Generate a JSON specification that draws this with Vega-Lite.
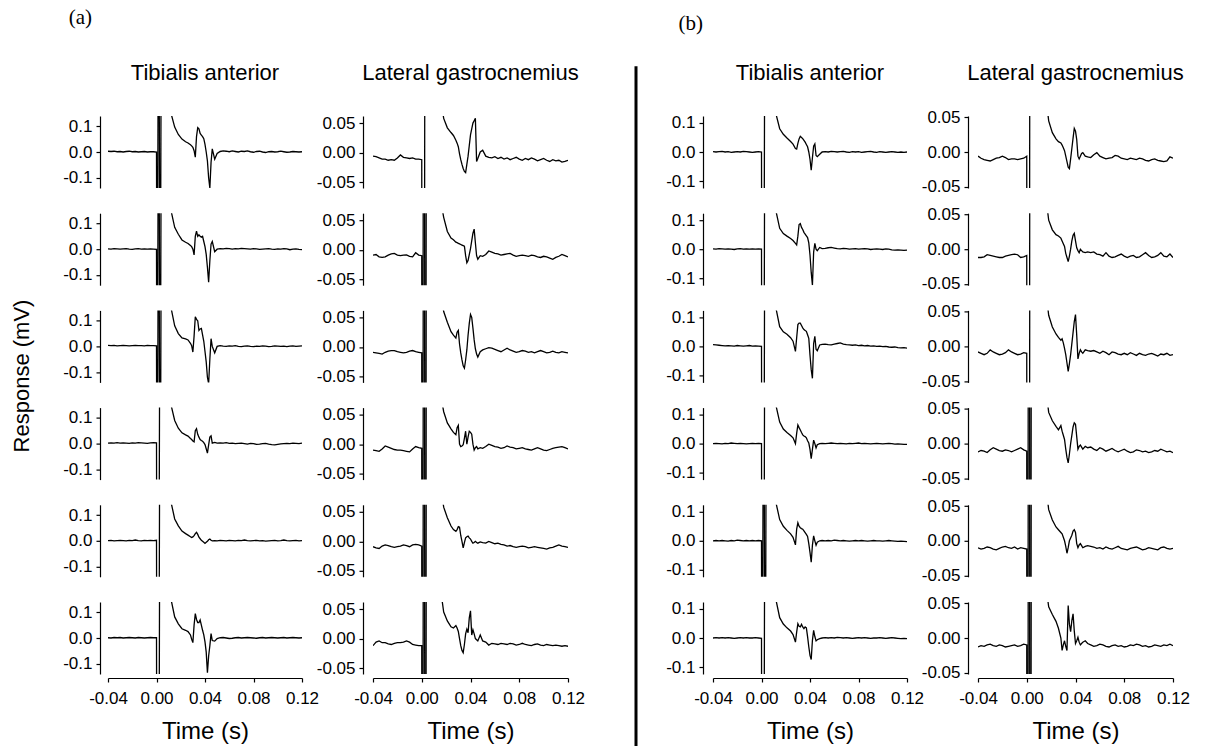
{
"$schema": "https://vega.github.io/schema/vega-lite/v6.json",
"background": "white",
"padding": {"left": 0, "top": 7, "right": 0, "bottom": 0},
"config": {
  "font": "Liberation Sans",
  "view": {"stroke": null},
  "locale": {"number": {"decimal": ".", "thousands": ",", "grouping": [3], "currency": ["$", ""], "minus": "-"}},
  "axis": {"domainColor": "black", "tickColor": "black", "labelColor": "black", "titleColor": "black", "grid": false, "labelFontSize": 17, "tickSize": 4, "labelPadding": 4, "titleFontWeight": "normal", "domainWidth": 1.2, "tickWidth": 1.2, "labelOverlap": false, "labelFlush": false},
  "header": {"titleFontSize": 1, "labelFontSize": 22, "labelColor": "black", "labelFont": "Liberation Sans", "labelPadding": 31},
  "title": {"fontWeight": "normal", "color": "black"}
},
"datasets": {
  "grid": [{"g": 1, "t": [-0.04,-0.0375,-0.035,-0.0325,-0.03,-0.0275,-0.025,-0.0225,-0.02,-0.0175,-0.015,-0.0125,-0.01,-0.0075,-0.005,-0.0025,0,0.0005,0.0018,0.003,0.0042,0.012,0.015,0.018,0.021,0.024,0.026,0.028,0.029,0.03,0.031,0.032,0.033,0.034,0.035,0.036,0.037,0.038,0.039,0.04,0.041,0.042,0.043,0.044,0.045,0.046,0.048,0.05,0.0525,0.055,0.0575,0.06,0.0625,0.065,0.0675,0.07,0.0725,0.075,0.0775,0.08,0.0825,0.085,0.0875,0.09,0.0925,0.095,0.0975,0.1,0.1025,0.105,0.1075,0.11,0.1125,0.115,0.1175,0.12]}],
  "traces": [
    {"g":1,"p":"aT","m":"Tibialis anterior","r":1,"v":[0.003,0.002,0.003,0.001,0.002,0,0.002,0.003,0.001,0.002,0,0.001,0.002,0,0.001,0.001,0,-1,1,-1,1,0.15,0.097,0.068,0.05,0.04,0.035,0.028,0.024,0.018,0.005,-0.02,0.06,0.095,0.09,0.072,0.066,0.06,0.052,0.03,0,-0.035,-0.1,-0.14,-0.04,0.012,-0.028,-0.006,0.002,0.004,0.003,0.001,0.004,0.002,0,0.003,0.002,0.004,0.001,-0.001,0.002,0.003,0,-0.002,0.001,0.002,0,0.001,0.003,0.001,-0.001,0,0.002,0.001,0,0.001]},
    {"g":1,"p":"aT","m":"Tibialis anterior","r":2,"v":[0.001,0,0.002,0.001,0,0.001,0.002,0,-0.001,0.001,0.002,0,0.001,0,0.001,0,-0.001,-1,1,-1,1,0.15,0.085,0.058,0.036,0.027,0.022,0.014,0.01,0,-0.022,0.05,0.07,0.05,0.056,0.05,0.047,0.05,0.03,0.01,-0.02,-0.07,-0.128,-0.045,0.02,0.03,-0.01,0,0.002,0.001,0.003,0.002,0,0.002,0.001,0.003,0.002,0.001,0,0.002,0.001,-0.001,0,0.001,0.002,0,-0.001,0.001,0,0.002,0.001,-0.002,0,0.001,-0.001,-0.002]},
    {"g":1,"p":"aT","m":"Tibialis anterior","r":3,"v":[0.004,0.003,0.004,0.002,0.003,0.004,0.003,0.002,0.003,0.004,0.003,0.003,0.002,0.004,0.003,0.003,0.002,-1,1,-1,1,0.15,0.08,0.05,0.033,0.029,0.025,0.012,0.003,-0.022,0.04,0.115,0.105,0.1,0.062,0.068,0.07,0.045,0.02,-0.02,-0.06,-0.12,-0.145,-0.05,0.03,0,-0.025,0,0.003,0.001,0,0.002,0.001,0.003,0,-0.001,0.001,0.002,0,-0.001,0.001,0,0.002,0.001,-0.001,0,0.002,0.001,0,0.001,-0.001,0.001,0.002,0,0.001,0.002]},
    {"g":1,"p":"aT","m":"Tibialis anterior","r":4,"v":[0.002,0.003,0.002,0.004,0.002,0.003,0.002,0.001,0.003,0.002,0.004,0.003,0.002,0.001,0.003,0.004,0.003,-1,-1,1,1,0.15,0.09,0.06,0.042,0.034,0.029,0.02,0.016,0.01,0.007,0.05,0.058,0.036,0.025,0.016,0.012,0.009,0.004,-0.004,-0.02,-0.037,-0.005,0.025,0.03,0.002,0.005,0.002,0.003,0.002,0.004,0.001,0.002,0,0.001,0.002,0,-0.002,0.001,0,-0.003,-0.002,0,0.001,-0.002,-0.004,-0.005,-0.003,-0.001,0,0.001,0,0.002,0.001,0,0.002]},
    {"g":1,"p":"aT","m":"Tibialis anterior","r":5,"v":[0.001,0.002,0,0.001,0.002,0.001,0,0.002,0.001,0.003,0.001,0,0.002,0.001,0.002,0.001,0.002,-1,-1,1,1,0.15,0.085,0.058,0.038,0.028,0.022,0.016,0.013,0.015,0.02,0.028,0.033,0.025,0.014,0.008,0.002,-0.002,-0.006,-0.01,-0.006,-0.002,0.004,0.007,0.002,0,0.001,0,0.002,0.001,0,0.002,0.001,0,0.002,0.001,0.003,0.001,0,0.001,0.002,0,0.001,-0.001,0,0.001,0.002,0,0.001,0.003,0.001,0,0.001,0.002,0,0.001]},
    {"g":1,"p":"aT","m":"Tibialis anterior","r":6,"v":[0.001,0,0.002,0.001,0.002,0,0.001,0.002,0.001,0,0.002,0.001,0,0.001,0.002,0.001,0.001,-1,-1,1,1,0.15,0.082,0.055,0.036,0.03,0.025,0.012,-0.005,-0.018,0.05,0.095,0.072,0.06,0.06,0.07,0.05,0.03,0.012,-0.015,-0.055,-0.135,-0.07,-0.03,0.017,-0.01,-0.012,-0.002,0.001,0.002,0,-0.002,-0.001,0.001,0.002,0,0.001,0.002,0.001,0,-0.001,0.001,0.002,0,0.001,0.002,0.001,0,0.001,0.002,0,0.001,0.002,0.001,0,0.001]},
    {"g":1,"p":"aL","m":"Lateral gastrocnemius","r":1,"v":[-0.006,-0.007,-0.009,-0.011,-0.011,-0.013,-0.012,-0.013,-0.009,-0.004,-0.008,-0.009,-0.01,-0.009,-0.011,-0.011,-0.012,-1,-1,1,1,0.2,0.1,0.058,0.042,0.034,0.029,0.021,0.016,0.01,-0.002,-0.012,-0.02,-0.027,-0.032,-0.034,-0.02,-0.006,0.012,0.03,0.04,0.05,0.054,0.058,-0.015,-0.01,0.001,0.004,-0.006,-0.008,-0.009,-0.007,-0.01,-0.008,-0.011,-0.009,-0.012,-0.01,-0.008,-0.011,-0.013,-0.01,-0.012,-0.009,-0.011,-0.014,-0.012,-0.01,-0.013,-0.015,-0.012,-0.014,-0.013,-0.016,-0.015,-0.013]},
    {"g":1,"p":"aL","m":"Lateral gastrocnemius","r":2,"v":[-0.009,-0.008,-0.012,-0.013,-0.012,-0.009,-0.007,-0.006,-0.009,-0.01,-0.009,-0.0087,-0.011,-0.012,-0.005,-0.009,-0.01,-1,1,-1,1,0.2,0.09,0.055,0.031,0.02,0.017,0.013,0.012,0.011,0.01,0.009,0.008,0.007,0.006,-0.01,-0.022,-0.018,-0.008,0.002,0.015,0.028,0.035,0.012,-0.01,-0.016,-0.01,-0.011,-0.008,-0.002,-0.004,-0.006,-0.007,-0.009,-0.008,-0.007,-0.006,-0.009,-0.011,-0.01,-0.009,-0.01,-0.011,-0.009,-0.01,-0.012,-0.013,-0.011,-0.012,-0.014,-0.016,-0.013,-0.011,-0.008,-0.01,-0.012]},
    {"g":1,"p":"aL","m":"Lateral gastrocnemius","r":3,"v":[-0.009,-0.01,-0.011,-0.012,-0.009,-0.007,-0.006,-0.006,-0.008,-0.009,-0.01,-0.009,-0.007,-0.006,-0.008,-0.009,-0.01,-1,1,-1,1,0.2,0.1,0.06,0.042,0.026,0.02,0.015,0.025,0.028,0.005,-0.01,-0.022,-0.032,-0.036,-0.022,-0.005,0.02,0.04,0.055,0.05,0.032,0.012,-0.003,-0.012,-0.017,-0.008,-0.005,-0.003,-0.001,-0.002,-0.004,-0.006,-0.008,-0.005,-0.002,-0.005,-0.007,-0.009,-0.008,-0.006,-0.007,-0.009,-0.008,-0.01,-0.008,-0.006,-0.008,-0.01,-0.009,-0.007,-0.009,-0.01,-0.008,-0.009,-0.01]},
    {"g":1,"p":"aL","m":"Lateral gastrocnemius","r":4,"v":[-0.01,-0.011,-0.012,-0.008,-0.003,-0.005,-0.007,-0.009,-0.01,-0.01,-0.011,-0.012,-0.013,-0.008,-0.004,-0.006,-0.007,-1,1,-1,1,0.2,0.09,0.055,0.036,0.026,0.02,0.016,0.028,0.032,0,-0.004,-0.003,-0.001,0.01,0.022,0,0.012,0.022,0.02,0.017,0,-0.01,-0.006,-0.004,-0.008,-0.006,-0.007,-0.004,0,-0.002,-0.004,-0.005,-0.007,-0.006,-0.003,-0.005,-0.006,-0.008,-0.007,-0.006,-0.008,-0.009,-0.01,-0.008,-0.006,-0.008,-0.01,-0.011,-0.009,-0.007,-0.006,-0.005,-0.004,-0.006,-0.008]},
    {"g":1,"p":"aL","m":"Lateral gastrocnemius","r":5,"v":[-0.009,-0.011,-0.012,-0.008,-0.006,-0.007,-0.009,-0.01,-0.009,-0.008,-0.006,-0.007,-0.009,-0.006,-0.005,-0.006,-0.008,-1,1,-1,1,0.2,0.1,0.058,0.04,0.026,0.02,0.017,0.02,0.025,0.024,0.01,0,-0.011,-0.002,0.006,0.008,0.009,0.006,0.004,0,-0.003,-0.002,0,-0.002,-0.003,-0.001,-0.002,-0.003,0,-0.002,-0.004,-0.003,-0.005,-0.006,-0.008,-0.007,-0.009,-0.01,-0.009,-0.008,-0.009,-0.011,-0.01,-0.009,-0.01,-0.011,-0.012,-0.013,-0.011,-0.01,-0.008,-0.006,-0.008,-0.009,-0.01]},
    {"g":1,"p":"aL","m":"Lateral gastrocnemius","r":6,"v":[-0.012,-0.006,-0.004,-0.007,-0.007,-0.009,-0.01,-0.008,-0.007,-0.007,-0.006,-0.004,-0.006,-0.01,-0.011,-0.012,-0.012,-1,1,-1,1,0.2,0.09,0.045,0.03,0.02,0.018,0.022,0.018,0.012,0,-0.012,-0.02,-0.024,-0.01,0.008,0.016,0.01,0.035,0.047,0.006,0.015,0.008,0,-0.002,-0.004,0.006,-0.004,-0.006,-0.011,-0.008,-0.009,-0.01,-0.008,-0.009,-0.01,-0.008,-0.009,-0.011,-0.01,-0.008,-0.01,-0.011,-0.012,-0.01,-0.009,-0.011,-0.012,-0.01,-0.011,-0.012,-0.011,-0.012,-0.013,-0.012,-0.013]},
    {"g":1,"p":"bT","m":"Tibialis anterior","r":1,"v":[0.001,0,0.001,0.002,0,0.001,-0.001,0,0.001,0,0.002,0.001,0,-0.001,0,0.001,0,-1,-1,1,1,0.13,0.08,0.061,0.048,0.036,0.027,0.012,0.01,0.03,0.045,0.054,0.05,0.046,0.04,0.034,0.026,0.018,0,-0.025,-0.063,-0.02,0.02,0.028,-0.012,-0.016,-0.008,0,0.001,0,0.002,0.001,0,0.001,0.002,0,-0.001,0.001,0,0.001,-0.001,0,0.001,0.002,0,-0.001,0.001,0,-0.001,0,0.001,0,-0.001,0,-0.001,0]},
    {"g":1,"p":"bT","m":"Tibialis anterior","r":2,"v":[0.001,0,0.002,0.001,0,0.001,0,-0.001,0.001,0.002,0,0.001,0,0.001,0,0.001,0,-1,-1,1,1,0.13,0.072,0.054,0.045,0.037,0.03,0.02,0.015,0.045,0.085,0.088,0.075,0.068,0.058,0.052,0.046,0.04,0.022,-0.02,-0.08,-0.124,-0.01,0.02,0,-0.005,0.006,0.002,0.003,0.005,0.006,0.004,0.002,0.001,0.003,0.002,0,0.001,0.002,0,0.001,0.002,0.001,-0.001,0,0.001,0,-0.001,0.001,0,-0.002,-0.003,-0.002,-0.003,-0.004,-0.003]},
    {"g":1,"p":"bT","m":"Tibialis anterior","r":3,"v":[0.006,0.005,0.004,0.003,0.002,0.003,0.002,0.001,0.003,0.002,0.001,0.002,0.003,0.001,0.002,0.001,0,-1,-1,1,1,0.13,0.068,0.05,0.042,0.03,0.018,-0.017,0.03,0.075,0.08,0.08,0.072,0.064,0.058,0.055,0.052,0.04,0.028,-0.03,-0.08,-0.11,0.01,0.035,-0.01,-0.015,0.005,0.007,0.008,0.006,0.005,0.008,0.01,0.012,0.008,0.006,0.005,0.004,0.005,0.003,0.004,0.002,0.003,0.001,0.002,0,0.001,-0.001,0,-0.002,-0.003,-0.002,-0.004,-0.005,-0.004,-0.006]},
    {"g":1,"p":"bT","m":"Tibialis anterior","r":4,"v":[0,0.001,0,-0.001,0.001,0,0.002,0.001,0,0.001,0,-0.001,0,0.001,0,0.001,0,-1,-1,1,1,0.13,0.074,0.05,0.038,0.028,0.02,0,0.035,0.064,0.055,0.047,0.038,0.03,0.026,0.024,0.02,0.01,0.002,-0.02,-0.052,-0.02,0.012,0,-0.015,-0.004,0,0.001,0,0.001,0.002,0.001,0,0.001,0,-0.001,0.001,0,0.001,0.002,0,0.001,0,-0.001,0,0.001,0,-0.001,0,0.001,0,-0.002,-0.001,-0.002,-0.003,-0.003]},
    {"g":1,"p":"bT","m":"Tibialis anterior","r":5,"v":[0,0.001,0,0.001,0,-0.001,0.001,0,0.002,0.001,0,0.001,0,0.001,0,0.001,0,-1,1,-1,1,0.13,0.073,0.05,0.036,0.024,0.012,-0.014,0.04,0.062,0.05,0.045,0.042,0.04,0.034,0.028,0.022,0.015,-0.01,-0.04,-0.074,-0.015,0.017,0,-0.015,-0.005,0,0.001,0,0.001,0,0.002,0.001,0,0.001,0,-0.001,0,0.001,0,0.001,0,-0.001,0,0.001,0,0,-0.001,0,0.001,0,-0.001,-0.002,-0.001,-0.002,-0.003]},
    {"g":1,"p":"bT","m":"Tibialis anterior","r":6,"v":[0,0.001,0,0.001,0,0.001,0,-0.001,0,0.001,0,0.001,0,0,0.001,0,-0.001,-1,-1,1,1,0.13,0.07,0.048,0.035,0.024,0.012,-0.014,0.02,0.049,0.04,0.038,0.047,0.038,0.032,0.038,0.035,0.005,-0.03,-0.06,-0.074,-0.008,0.026,0.005,-0.01,-0.006,-0.002,0,0.001,0,0.001,0,0.002,0.001,0,0.001,0,-0.001,0,0.001,0,0.001,0,-0.001,0,0,0.001,0,-0.001,0,0.001,0,-0.001,-0.002,-0.001,-0.002]},
    {"g":1,"p":"bL","m":"Lateral gastrocnemius","r":1,"v":[-0.006,-0.009,-0.011,-0.012,-0.013,-0.011,-0.009,-0.008,-0.006,-0.008,-0.011,-0.01,-0.01,-0.011,-0.01,-0.009,-0.006,-1,-1,1,1,0.2,0.09,0.045,0.028,0.019,0.015,0.013,0.01,0.006,0.002,-0.006,-0.014,-0.022,-0.024,-0.01,0.005,0.02,0.034,0.03,0.018,-0.006,-0.01,-0.006,-0.002,-0.001,-0.006,-0.007,-0.008,-0.004,-0.001,-0.006,-0.008,-0.01,-0.009,-0.008,-0.005,-0.006,-0.009,-0.01,-0.011,-0.009,-0.01,-0.011,-0.009,-0.01,-0.012,-0.013,-0.011,-0.01,-0.012,-0.013,-0.014,-0.013,-0.007,-0.009]},
    {"g":1,"p":"bL","m":"Lateral gastrocnemius","r":2,"v":[-0.012,-0.012,-0.011,-0.008,-0.009,-0.01,-0.011,-0.012,-0.012,-0.01,-0.009,-0.008,-0.007,-0.008,-0.012,-0.011,-0.009,-1,-1,1,1,0.2,0.085,0.042,0.028,0.021,0.019,0.016,0.012,0.008,0.004,-0.006,-0.012,-0.018,-0.01,0,0.012,0.02,0.023,0.012,0.002,-0.002,-0.005,0,-0.002,-0.004,-0.005,-0.004,-0.005,-0.004,-0.007,-0.008,-0.01,-0.005,-0.01,-0.012,-0.011,-0.009,-0.007,-0.01,-0.012,-0.01,-0.009,-0.012,-0.011,-0.008,-0.005,-0.009,-0.012,-0.011,-0.009,-0.005,-0.01,-0.011,-0.007,-0.012]},
    {"g":1,"p":"bL","m":"Lateral gastrocnemius","r":3,"v":[-0.008,-0.01,-0.012,-0.01,-0.005,-0.008,-0.01,-0.012,-0.011,-0.009,-0.005,-0.008,-0.01,-0.012,-0.011,-0.009,-0.01,-1,-1,1,1,0.2,0.09,0.045,0.028,0.018,0.013,0.009,0.011,0.005,-0.003,-0.012,-0.024,-0.036,-0.025,-0.012,0.004,0.02,0.036,0.046,0.016,-0.018,-0.01,-0.005,-0.008,-0.01,-0.005,-0.006,-0.007,-0.006,-0.008,-0.01,-0.007,-0.009,-0.012,-0.008,-0.009,-0.011,-0.012,-0.01,-0.012,-0.009,-0.011,-0.013,-0.01,-0.012,-0.013,-0.011,-0.01,-0.012,-0.014,-0.011,-0.012,-0.01,-0.013,-0.012]},
    {"g":1,"p":"bL","m":"Lateral gastrocnemius","r":4,"v":[-0.012,-0.01,-0.011,-0.013,-0.009,-0.006,-0.008,-0.01,-0.011,-0.009,-0.01,-0.012,-0.01,-0.008,-0.006,-0.009,-0.011,-1,1,-1,1,0.2,0.09,0.045,0.033,0.025,0.02,0.026,0.018,0.012,0.006,-0.008,-0.02,-0.028,-0.015,0,0.012,0.024,0.03,0.028,0.01,-0.008,-0.004,-0.002,-0.005,-0.008,-0.004,-0.006,-0.005,-0.008,-0.01,-0.006,-0.008,-0.011,-0.009,-0.007,-0.01,-0.012,-0.01,-0.008,-0.011,-0.013,-0.012,-0.009,-0.01,-0.012,-0.011,-0.013,-0.012,-0.01,-0.011,-0.008,-0.01,-0.012,-0.011,-0.013]},
    {"g":1,"p":"bL","m":"Lateral gastrocnemius","r":5,"v":[-0.01,-0.012,-0.011,-0.009,-0.01,-0.012,-0.013,-0.011,-0.009,-0.008,-0.01,-0.011,-0.009,-0.012,-0.01,-0.011,-0.012,-1,1,-1,1,0.2,0.09,0.045,0.03,0.02,0.016,0.012,0.01,0.005,0,-0.008,-0.018,-0.01,0,0.004,0.008,0.014,0.016,0.012,-0.004,-0.01,-0.006,-0.004,-0.007,-0.01,-0.008,-0.007,-0.008,-0.009,-0.011,-0.01,-0.012,-0.009,-0.011,-0.012,-0.01,-0.008,-0.011,-0.012,-0.013,-0.011,-0.01,-0.009,-0.011,-0.013,-0.012,-0.01,-0.011,-0.012,-0.013,-0.01,-0.009,-0.011,-0.012,-0.011]},
    {"g":1,"p":"bL","m":"Lateral gastrocnemius","r":6,"v":[-0.013,-0.011,-0.012,-0.01,-0.009,-0.011,-0.012,-0.01,-0.011,-0.013,-0.012,-0.011,-0.01,-0.012,-0.011,-0.009,-0.01,-1,1,-1,1,0.2,0.085,0.045,0.034,0.024,0.014,0,-0.018,-0.01,-0.004,-0.012,-0.018,0.047,0.02,0.009,0.025,0.035,0.01,-0.008,-0.004,0.001,-0.006,-0.01,-0.008,-0.006,-0.004,-0.008,-0.01,-0.012,-0.011,-0.009,-0.01,-0.012,-0.013,-0.011,-0.01,-0.012,-0.011,-0.013,-0.012,-0.01,-0.011,-0.009,-0.01,-0.012,-0.011,-0.013,-0.012,-0.01,-0.011,-0.012,-0.01,-0.011,-0.009,-0.011]}
  ]
},
"spacing": 49,
"hconcat": [
  {
    "spacing": 18,
    "hconcat": [
      {
        "width": 44, "height": 520,
        "data": {"values": [{"label": "Response (mV)"}]},
        "mark": {"type": "text", "angle": 270, "fontSize": 22, "color": "black"},
        "encoding": {"text": {"field": "label"}}
      },
      {
        "title": {"text": "(a)", "anchor": "start", "font": "Liberation Serif", "fontSize": 21, "dx": 6, "offset": 34},
        "spacing": -3,
        "hconcat": [
          {
            "data": {"name": "traces"},
            "transform": [
              {"filter": {"field": "p", "equal": "aT"}},
              {"lookup": "g", "from": {"data": {"name": "grid"}, "key": "g", "fields": ["t"]}},
              {"flatten": ["t", "v"]}
            ],
            "facet": {"row": {"field": "r", "type": "ordinal", "header": null}, "column": {"field": "m", "type": "nominal", "header": {"title": null}}},
            "spacing": {"row": 25.2},
            "bounds": "flush",
            "spec": {
              "width": 194, "height": 72,
              "mark": {"type": "line", "clip": true, "color": "black", "strokeWidth": 1.3},
              "encoding": {
                "x": {"field": "t", "type": "quantitative", "scale": {"domain": [-0.04, 0.12], "nice": false, "zero": false}, "axis": {"values": [-0.04, 0, 0.04, 0.08, 0.12], "format": ".2f", "title": "Time (s)", "titleFontSize": 24, "offset": 4, "labelPadding": 8, "titlePadding": 13}},
                "y": {"field": "v", "type": "quantitative", "scale": {"domain": [-0.14, 0.14], "nice": false, "zero": false}, "axis": {"values": [-0.1, 0, 0.1], "format": ".1f", "title": null, "offset": 8}}
              }
            }
          },
          {
            "data": {"name": "traces"},
            "transform": [
              {"filter": {"field": "p", "equal": "aL"}},
              {"lookup": "g", "from": {"data": {"name": "grid"}, "key": "g", "fields": ["t"]}},
              {"flatten": ["t", "v"]}
            ],
            "facet": {"row": {"field": "r", "type": "ordinal", "header": null}, "column": {"field": "m", "type": "nominal", "header": {"title": null}}},
            "spacing": {"row": 25.2},
            "bounds": "flush",
            "spec": {
              "width": 195, "height": 72,
              "mark": {"type": "line", "clip": true, "color": "black", "strokeWidth": 1.3},
              "encoding": {
                "x": {"field": "t", "type": "quantitative", "scale": {"domain": [-0.04, 0.12], "nice": false, "zero": false}, "axis": {"values": [-0.04, 0, 0.04, 0.08, 0.12], "format": ".2f", "title": "Time (s)", "titleFontSize": 24, "offset": 4, "labelPadding": 8, "titlePadding": 13}},
                "y": {"field": "v", "type": "quantitative", "scale": {"domain": [-0.06, 0.062], "nice": false, "zero": false}, "axis": {"values": [-0.05, 0, 0.05], "format": ".2f", "title": null, "offset": 10}}
              }
            }
          }
        ]
      }
    ]
  },
  {
    "title": {"text": "(b)", "anchor": "start", "font": "Liberation Serif", "fontSize": 21, "dx": 44, "dy": 6, "offset": 34},
    "spacing": 27,
    "hconcat": [
      {
        "width": 2, "height": 630,
        "data": {"values": [{"s": 0}]},
        "mark": {"type": "rule", "color": "black", "strokeWidth": 3},
        "encoding": {
          "x": {"field": "s", "type": "quantitative", "scale": {"domain": [0, 1]}, "axis": null},
          "y": {"datum": 1.079, "type": "quantitative", "scale": {"domain": [0, 1]}, "axis": null},
          "y2": {"datum": 0}
        }
      },
      {
        "spacing": -3,
        "hconcat": [
          {
            "data": {"name": "traces"},
            "transform": [
              {"filter": {"field": "p", "equal": "bT"}},
              {"lookup": "g", "from": {"data": {"name": "grid"}, "key": "g", "fields": ["t"]}},
              {"flatten": ["t", "v"]}
            ],
            "facet": {"row": {"field": "r", "type": "ordinal", "header": null}, "column": {"field": "m", "type": "nominal", "header": {"title": null}}},
            "spacing": {"row": 25.2},
            "bounds": "flush",
            "spec": {
              "width": 194, "height": 72,
              "mark": {"type": "line", "clip": true, "color": "black", "strokeWidth": 1.3},
              "encoding": {
                "x": {"field": "t", "type": "quantitative", "scale": {"domain": [-0.04, 0.12], "nice": false, "zero": false}, "axis": {"values": [-0.04, 0, 0.04, 0.08, 0.12], "format": ".2f", "title": "Time (s)", "titleFontSize": 24, "offset": 4, "labelPadding": 8, "titlePadding": 13}},
                "y": {"field": "v", "type": "quantitative", "scale": {"domain": [-0.124, 0.124], "nice": false, "zero": false}, "axis": {"values": [-0.1, 0, 0.1], "format": ".1f", "title": null, "offset": 10}}
              }
            }
          },
          {
            "data": {"name": "traces"},
            "transform": [
              {"filter": {"field": "p", "equal": "bL"}},
              {"lookup": "g", "from": {"data": {"name": "grid"}, "key": "g", "fields": ["t"]}},
              {"flatten": ["t", "v"]}
            ],
            "facet": {"row": {"field": "r", "type": "ordinal", "header": null}, "column": {"field": "m", "type": "nominal", "header": {"title": null}}},
            "spacing": {"row": 25.2},
            "bounds": "flush",
            "spec": {
              "width": 195, "height": 72,
              "mark": {"type": "line", "clip": true, "color": "black", "strokeWidth": 1.3},
              "encoding": {
                "x": {"field": "t", "type": "quantitative", "scale": {"domain": [-0.04, 0.12], "nice": false, "zero": false}, "axis": {"values": [-0.04, 0, 0.04, 0.08, 0.12], "format": ".2f", "title": "Time (s)", "titleFontSize": 24, "offset": 4, "labelPadding": 8, "titlePadding": 13}},
                "y": {"field": "v", "type": "quantitative", "scale": {"domain": [-0.052, 0.052], "nice": false, "zero": false}, "axis": {"values": [-0.05, 0, 0.05], "format": ".2f", "title": null, "offset": 10}}
              }
            }
          }
        ]
      }
    ]
  }
]
}
